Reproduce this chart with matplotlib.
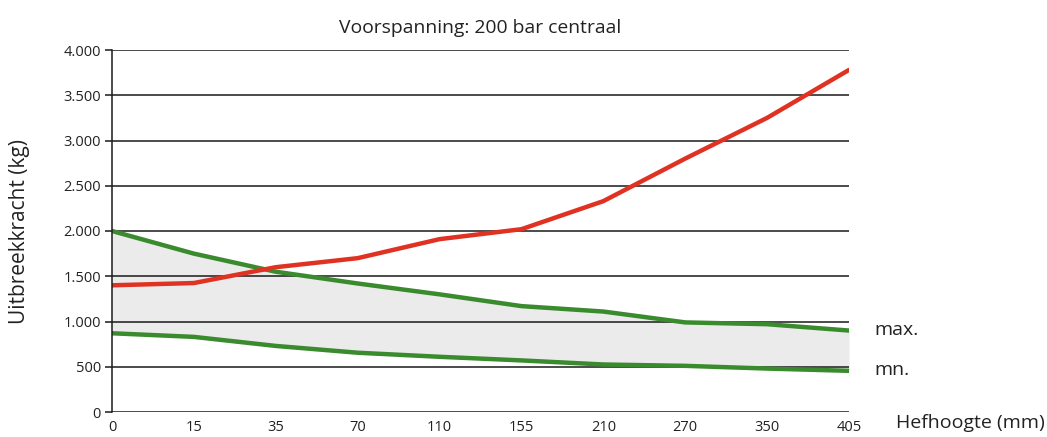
import numpy as np
import matplotlib.pyplot as plt

plt.rcParams['font.family'] = ['Open Sans', 'DejaVu Sans']

hefhoogte = ['0', '15', '35', '70', '110', '155', '210', '270', '350', '405']
kracht_rood = [1400, 1425, 1600, 1700, 1910, 2020, 2330, 2800, 3250, 3780]
kracht_max = [2000, 1750, 1550, 1420, 1300, 1170, 1110, 990, 970, 900]
kracht_min = [870, 830, 730, 655, 610, 570, 525, 510, 480, 455]
yticks = [0, 500, 1000, 1500, 2000, 2500, 3000, 3500, 4000]
ylabels = ['0', '500', '1.000', '1.500', '2.000', '2.500', '3.000', '3.500', '4.000']

groen = '#3a8a2e'
rood = '#e03222'

fig = plt.figure(figsize=(10.47, 4.37), dpi=100)
ax = fig.add_axes([112 / 1047, 1 - 412 / 437, (849 - 112) / 1047, (412 - 50) / 437])

x = np.arange(len(hefhoogte))
ax.fill_between(x, kracht_min, kracht_max, color='#ebebeb', lw=0, zorder=1)
for y in yticks:
    ax.axhline(y, color='#1a1a1a', lw=1.1, zorder=2)
ax.plot(x, kracht_max, color=groen, lw=3.2, zorder=3, solid_capstyle='round')
ax.plot(x, kracht_min, color=groen, lw=3.2, zorder=3, solid_capstyle='round')
ax.plot(x, kracht_rood, color=rood, lw=3.2, zorder=4, solid_capstyle='round')

ax.set_xlim(0, len(hefhoogte) - 1)
ax.set_ylim(0, 4000)
ax.set_xticks(x)
ax.set_xticklabels(hefhoogte, fontsize=10.5, color='#222222')
ax.set_yticks(yticks)
ax.set_yticklabels(ylabels, fontsize=10.5, color='#222222')
ax.tick_params(axis='x', length=0, pad=6)
ax.tick_params(axis='y', length=5, width=1.1, color='#1a1a1a', pad=3)
for s in ['top', 'right', 'bottom']:
    ax.spines[s].set_visible(False)
ax.spines['left'].set_linewidth(1.1)
ax.spines['left'].set_color('#1a1a1a')
ax.spines['left'].set_zorder(5)

ax.set_title('Voorspanning: 200 bar centraal', fontsize=13.9, color='#222222', pad=12)
fig.text(20 / 1047, 1 - 232 / 437, 'Uitbreekkracht (kg)', fontsize=15, color='#222222',
         rotation=90, ha='center', va='center')

fig.text(874 / 1047, 1 - 330 / 437, 'max.', fontsize=14, color='#222222', va='center')
fig.text(874 / 1047, 1 - 370 / 437, 'mn.', fontsize=14, color='#222222', va='center')
fig.text(896 / 1047, 1 - 423 / 437, 'Hefhoogte (mm)', fontsize=14, color='#222222', va='center')

fig.savefig('out.png', dpi=100)
